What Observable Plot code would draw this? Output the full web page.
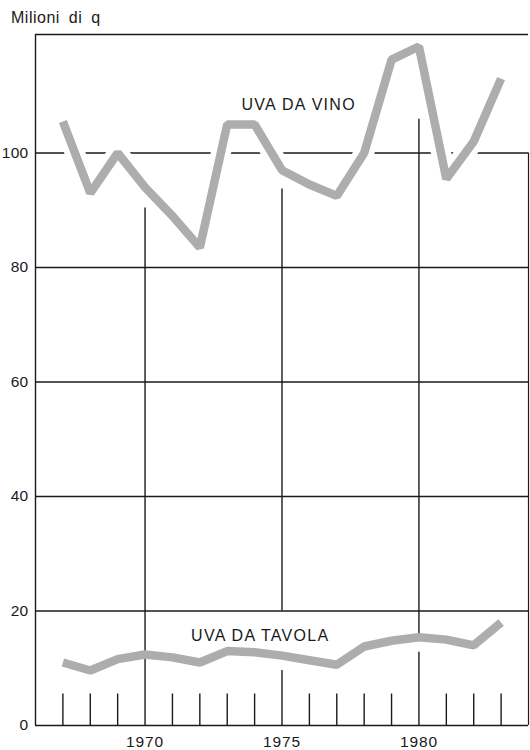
<!DOCTYPE html>
<html>
<head>
<meta charset="utf-8">
<script src="https://cdn.jsdelivr.net/npm/d3@7"></script>
<script src="https://cdn.jsdelivr.net/npm/@observablehq/plot@0.6"></script>
<style>
  html, body { margin: 0; padding: 0; background: #fff; }
  #chart svg { display: block; }
</style>
</head>
<body>
<div id="chart"></div>
<script>
// ---- data ----
const years  = [1967, 1968, 1969, 1970, 1971, 1972, 1973, 1974, 1975, 1976, 1977, 1978, 1979, 1980, 1981, 1982, 1983];
const vino   = [105.5, 93, 100, 94, 89, 83.5, 105, 105, 97, 94.5, 92.5, 100, 116.3, 118.6, 95.5, 102, 113];
const tavola = [11, 9.6, 11.6, 12.4, 11.9, 11, 13, 12.8, 12.2, 11.4, 10.6, 13.8, 14.8, 15.4, 15, 14, 18];
const yTicks = [0, 20, 40, 60, 80, 100];
const xTicks = [1970, 1975, 1980];
const minorYears = years.filter(y => !xTicks.includes(y));
const minorTickTop = 5.5;
// vertical grid segments (in data units) as they appear, interrupted
const gridSegments = [
  {year: 1970, from: 0, to: 90.4},
  {year: 1975, from: 0, to: 9.6},
  {year: 1975, from: 20, to: 93.7},
  {year: 1980, from: 0, to: 12.8},
  {year: 1980, from: 15.4, to: 105.9}
];
const seriesLabels = [
  {text: "UVA DA VINO", year: 1973.52, value: 108.4},
  {text: "UVA DA TAVOLA", year: 1971.68, value: 15.6}
];
const yLabel = "Milioni di q";
const xDomain = [1966, 1984];
const yDomain = [0, 120.7];
const rightFrameTop = 100;

const rows = years.map((y, i) => ({year: y, vino: vino[i], tavola: tavola[i]}));

const ink = "#1a1a1a";
const lineGray = "#adadad";

const chart = Plot.plot({
  width: 530,
  height: 750,
  marginTop: 34,
  marginBottom: 25,
  marginLeft: 35,
  marginRight: 2,
  x: {domain: xDomain, axis: null},
  y: {domain: yDomain, axis: null},
  style: {fontFamily: "'Liberation Sans', Arial, Helvetica, sans-serif", background: "#fff", color: ink},
  marks: [
    // horizontal grid
    Plot.ruleY(yTicks.filter(d => d > 0), {stroke: ink, strokeWidth: 1.3}),
    // vertical grid segments
    Plot.ruleX(gridSegments, {x: "year", y1: "from", y2: "to", stroke: ink, strokeWidth: 1.4}),
    // minor year ticks
    Plot.ruleX(minorYears, {y1: 0, y2: minorTickTop, stroke: ink, strokeWidth: 1.4}),
    // frame
    Plot.ruleX([xDomain[0]], {stroke: ink, strokeWidth: 1.4}),
    Plot.ruleX([xDomain[1]], {y1: 0, y2: rightFrameTop, stroke: ink, strokeWidth: 1.2}),
    Plot.ruleY([yDomain[0]], {stroke: ink, strokeWidth: 1.4}),
    Plot.ruleY([yDomain[1]], {stroke: ink, strokeWidth: 1.3}),
    // wine grapes line with white halo
    Plot.line(rows, {x: "year", y: "vino", stroke: "#fff", strokeWidth: 20, strokeLinejoin: "round"}),
    Plot.line(rows, {x: "year", y: "vino", stroke: lineGray, strokeWidth: 8.5, strokeLinejoin: "miter", strokeLinecap: "butt"}),
    // table grapes line
    Plot.line(rows, {x: "year", y: "tavola", stroke: lineGray, strokeWidth: 8.5, strokeLinejoin: "miter", strokeLinecap: "butt"}),
    // series labels
    Plot.text(seriesLabels, {x: "year", y: "value", text: "text", textAnchor: "start", lineAnchor: "middle", fontSize: 16, fill: ink}),
    // axes
    Plot.axisY(yTicks, {anchor: "left", tickSize: 0, tickPadding: 7, fontSize: 15.5, fill: ink, label: null}),
    Plot.axisX(xTicks, {anchor: "bottom", tickSize: 0, tickPadding: 10, fontSize: 15.5, fill: ink, label: null, tickFormat: d => String(d)}),
    // unit title
    Plot.text([yLabel], {frameAnchor: "top-left", dx: -24.5, dy: -16.5, textAnchor: "start", lineAnchor: "middle", fontSize: 16, fill: ink})
  ]
});

document.getElementById("chart").appendChild(chart);

// typographic spacing tweaks
const svg = d3.select(chart);
svg.selectAll("text").each(function() {
  const t = this.textContent;
  if (t === "UVA DA VINO" || t === "UVA DA TAVOLA") {
    this.style.letterSpacing = "1.3px";
  } else if (t === yLabel) {
    this.style.letterSpacing = "0.5px";
    this.style.wordSpacing = "4px";
  } else if (xTicks.map(String).includes(t)) {
    this.style.letterSpacing = "0.9px";
  } else {
    this.style.letterSpacing = "0.3px";
  }
});
</script>
</body>
</html>
